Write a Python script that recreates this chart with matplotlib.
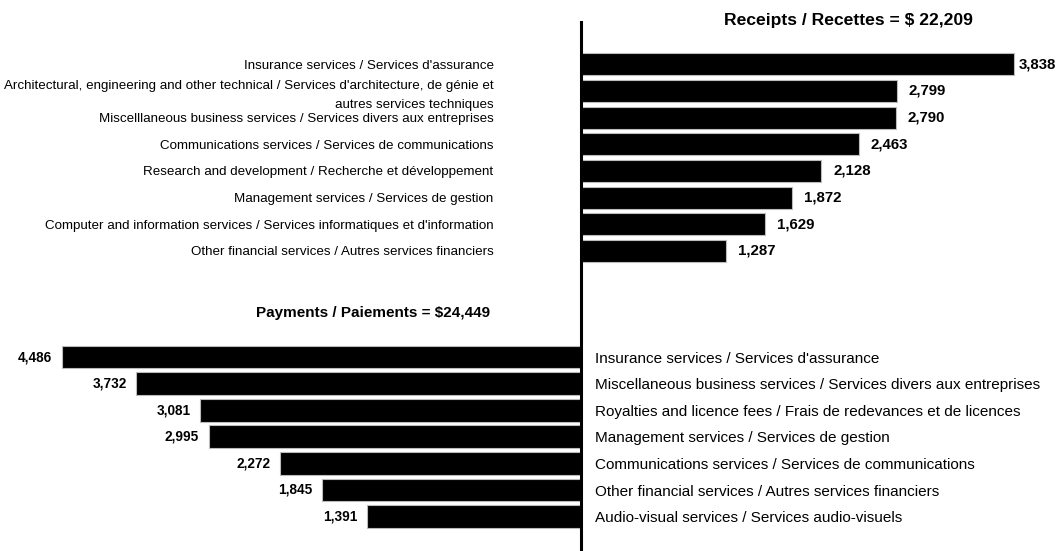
import matplotlib
matplotlib.use("Agg")
import matplotlib.pyplot as plt
from matplotlib.lines import Line2D

plt.rcParams['font.family'] = ['Liberation Sans', 'DejaVu Sans']

# data (millions of dollars)
rec_labels = ["Insurance services / Services d'assurance",
              "Architectural, engineering and other technical / Services d'architecture, de génie et\nautres services techniques",
              "Miscelllaneous business services / Services divers aux entreprises",
              "Communications services / Services de communications",
              "Research and development / Recherche et développement",
              "Management services / Services de gestion",
              "Computer and information services / Services informatiques et d'information",
              "Other financial services / Autres services financiers"]
rec_values = [3838, 2799, 2790, 2463, 2128, 1872, 1629, 1287]
rec_total = "Receipts / Recettes = $ 22,209"

pay_labels = ["Insurance services / Services d'assurance",
              "Miscellaneous business services / Services divers aux entreprises",
              "Royalties and licence fees / Frais de redevances et de licences",
              "Management services / Services de gestion",
              "Communications services / Services de communications",
              "Other financial services / Autres services financiers",
              "Audio-visual services / Services audio-visuels"]
pay_values = [4486, 3732, 3081, 2995, 2272, 1845, 1391]
pay_total = "Payments / Paiements = $24,449"

W, H = 1060, 551
fig = plt.figure(figsize=(W / 100, H / 100), dpi=100)


def box(x0, y0, x1, y1):
    # pixel box (top-left origin) -> figure fraction rect
    return [x0 / W, 1 - y1 / H, (x1 - x0) / W, (y1 - y0) / H]


axis_x = 581

# receipts panel
rec_scale = 0.1129  # px per unit
ax1 = fig.add_axes(box(axis_x, 51, W, 264.2))
ypos = list(range(len(rec_values)))
ax1.barh(ypos, rec_values, height=0.83, color='black', edgecolor='#bbbbbb', linewidth=0.8)
ax1.set_xlim(0, (W - axis_x) / rec_scale)
ax1.set_ylim(len(rec_values) - 0.5, -0.5)
ax1.set_yticks(ypos)
ax1.set_yticklabels(rec_labels, fontsize=9.6)
for lbl in ax1.get_yticklabels():
    lbl.set_linespacing(1.75)
ax1.tick_params(axis='y', length=0, pad=63)
ax1.set_xticks([])
for s in ax1.spines.values():
    s.set_visible(False)
for i, v in enumerate(rec_values):
    gap = 3 if v == max(rec_values) else 8.5
    ax1.annotate(f"{v:,}", xy=(v, i), xytext=(gap, 0), textcoords='offset points',
                 ha='left', va='center', fontsize=10.8, fontweight='bold')

# payments panel (mirrored, axis does not start at zero)
pay_scale = 0.0985
pay_min = -782
ax2 = fig.add_axes(box(0, 343.7, axis_x, 529.9))
ypos2 = list(range(len(pay_values)))
ax2.barh(ypos2, [v - pay_min for v in pay_values], left=pay_min, height=0.85,
         color='black', edgecolor='#bbbbbb', linewidth=0.8)
ax2.set_xlim(pay_min + axis_x / pay_scale, pay_min)
ax2.set_ylim(len(pay_values) - 0.5, -0.5)
ax2.set_yticks(ypos2)
ax2.set_yticklabels(pay_labels, fontsize=11)
ax2.yaxis.set_ticks_position('right')
ax2.tick_params(axis='y', length=0, pad=10, labelright=True, labelleft=False)
ax2.set_xticks([])
for s in ax2.spines.values():
    s.set_visible(False)
for i, v in enumerate(pay_values):
    ax2.annotate(f"{v:,}", xy=(v, i), xytext=(-7, 0), textcoords='offset points',
                 ha='right', va='center', fontsize=9.8, fontweight='bold')

# titles
fig.text(848 / W, 1 - 21 / H, rec_total, ha='center', va='center', fontsize=12.6, fontweight='bold')
fig.text(490 / W, 1 - 313 / H, pay_total, ha='right', va='center', fontsize=11, fontweight='bold')

# central axis line
fig.add_artist(Line2D([axis_x / W, axis_x / W], [1 - 22 / H, 0], color='black', linewidth=2.2))

fig.savefig("out.png", dpi=100)
